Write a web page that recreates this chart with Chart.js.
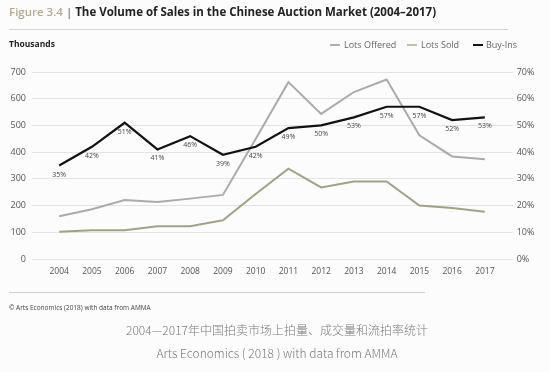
<!DOCTYPE html>
<html>
<head>
<meta charset="utf-8">
<script src="https://cdn.jsdelivr.net/npm/chart.js@4"></script>
<style>
  html, body { margin:0; padding:0; background:#fdfcfd; }
  #wrap { position:relative; width:550px; height:372px; overflow:hidden; font-family:'Open Sans', sans-serif; }
  #c { position:absolute; left:0; top:0; }
  .t { position:absolute; white-space:nowrap; line-height:1; transform:translateY(-50%); }
  .hr { position:absolute; height:1px; }
  .lg { position:absolute; height:2px; top:44px; }
</style>
</head>
<body>
<div id="wrap">
  <canvas id="c" width="550" height="372"></canvas>
  <div class="t" style="left:9px; top:12px; font-size:11.5px; font-weight:700; color:#222;"><span style="color:#b2ab90; font-weight:600;">Figure 3.4</span><span style="color:#555; font-weight:400;"> | </span>The Volume of Sales in the Chinese Auction Market (2004–2017)</div>
  <div class="hr" style="left:9px; top:29px; width:499px; background:#d4d4d4;"></div>
  <div class="t" style="left:9px; top:44px; font-size:8.5px; font-weight:700; color:#222;">Thousands</div>
  <div class="lg" style="left:330px; width:10px; background:#b0b0b0;"></div>
  <div class="t" style="left:344px; top:44px; font-size:9px; color:#666;">Lots Offered</div>
  <div class="lg" style="left:407px; width:10px; background:#c4c09c;"></div>
  <div class="t" style="left:421px; top:44px; font-size:9px; color:#666;">Lots Sold</div>
  <div class="lg" style="left:473px; width:10px; background:#111;"></div>
  <div class="t" style="left:486px; top:44px; font-size:9px; color:#666;">Buy-Ins</div>
  <div class="hr" style="left:9px; top:292px; width:416px; background:#cfcfcf;"></div>
  <div class="t" style="left:9px; top:308px; font-size:6.5px; color:#444;">© Arts Economics (2018) with data from AMMA</div>
  <div class="t" style="left:0; width:554px; text-align:center; top:330px; font-size:12px; color:#7a7a7a; font-family:'Noto Sans CJK SC', sans-serif; font-weight:300;">2004—2017年中国拍卖市场上拍量、成交量和流拍率统计</div>
  <div class="t" style="left:0; width:554px; text-align:center; top:353px; font-size:12px; color:#7a7a7a; font-family:'Noto Sans CJK SC', sans-serif; font-weight:300;">Arts Economics ( 2018 ) with data from AMMA</div>
</div>
<script>
const years = [2004,2005,2006,2007,2008,2009,2010,2011,2012,2013,2014,2015,2016,2017];
const lotsOffered = [160,186,221,213,226,240,449,662,543,625,672,463,384,373];
const lotsSold = [102,108,108,123,123,145,243,338,268,290,290,200,191,177];
const buyIns = [35,42,51,41,46,39,42,49,50,53,57,57,52,53];
const leftTicks = [0,100,200,300,400,500,600,700];
const rightTicks = [0,10,20,30,40,50,60,70];

const toPts = arr => arr.map((v,i)=>({x:years[i], y:v}));

const labelPlugin = {
  id:'buyInLabels',
  afterDatasetsDraw(chart){
    const meta = chart.getDatasetMeta(2);
    const ctx = chart.ctx;
    ctx.save();
    ctx.font = "7px 'Open Sans', sans-serif";
    ctx.fillStyle = '#444';
    ctx.textAlign = 'center';
    ctx.textBaseline = 'middle';
    meta.data.forEach((p,i)=>{
      ctx.fillText(buyIns[i] + '%', p.x, p.y + 9);
    });
    ctx.restore();
  }
};

new Chart(document.getElementById('c'), {
  type:'line',
  data:{
    datasets:[
      {label:'Lots Offered', data:toPts(lotsOffered), borderColor:'#ababab', borderWidth:2, pointRadius:0, tension:0, yAxisID:'y', order:3},
      {label:'Lots Sold', data:toPts(lotsSold), borderColor:'#a2a283', borderWidth:2, pointRadius:0, tension:0, yAxisID:'y', order:2},
      {label:'Buy-Ins', data:toPts(buyIns), borderColor:'#111111', borderWidth:2.2, pointRadius:0, tension:0, yAxisID:'y2', order:1}
    ]
  },
  plugins:[labelPlugin],
  options:{
    responsive:false,
    animation:false,
    devicePixelRatio:1,
    layout:{padding:{top:72, bottom:93, left:0, right:0}},
    plugins:{legend:{display:false}, tooltip:{enabled:false}},
    scales:{
      x:{
        type:'linear', min:2003.17, max:2017.85,
        afterBuildTicks(s){ s.ticks = years.map(v=>({value:v})); },
        afterFit(s){ s.height = 20; },
        grid:{display:false, drawTicks:false},
        border:{display:false},
        ticks:{padding:7, color:'#555', font:{family:"'Open Sans', sans-serif", size:8.5}, callback:v=>String(v), maxRotation:0, autoSkip:false}
      },
      y:{
        position:'left', min:0, max:700,
        afterBuildTicks(s){ s.ticks = leftTicks.map(v=>({value:v})); },
        afterFit(s){ s.width = 32; },
        grid:{color:'#e3e3e3', lineWidth:1, drawTicks:false},
        border:{display:false},
        ticks:{padding:6, color:'#555', font:{family:"'Open Sans', sans-serif", size:9}}
      },
      y2:{
        position:'right', min:0, max:70,
        afterBuildTicks(s){ s.ticks = rightTicks.map(v=>({value:v})); },
        afterFit(s){ s.width = 37.3; },
        grid:{drawOnChartArea:false, drawTicks:false},
        border:{display:false},
        ticks:{padding:4, color:'#555', font:{family:"'Open Sans', sans-serif", size:9}, callback:v=>v+'%'}
      }
    }
  }
});
</script>
</body>
</html>
